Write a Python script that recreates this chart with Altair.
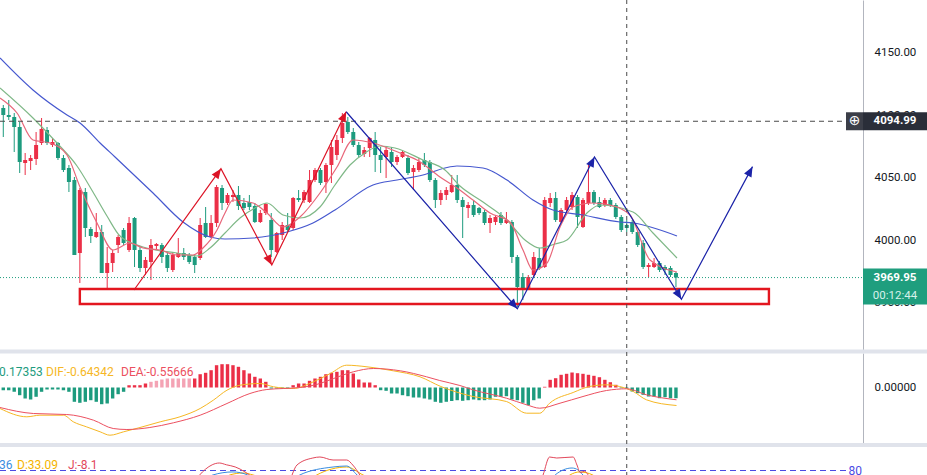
import math
import altair as alt
import pandas as pd

# ---------------- data ----------------
opens = [4105.6, 4100.0, 4098.4, 4090.4, 4061.6, 4063.2, 4064.8, 4077.6, 4088.0, 4076.0,
         4077.6, 4065.6, 4057.6, 4048.0, 3989.6, 4038.4, 4008.8, 4002.4, 4006.4, 3973.6,
         3981.6, 3996.0, 4008.0, 3992.0, 4017.6, 3992.0, 3977.6, 3982.4, 3995.2, 3996.0,
         3988.0, 3976.0, 3986.4, 3989.6, 3988.0, 3986.4, 3985.6, 4013.6, 4002.4, 4013.6,
         4041.6, 4029.6, 4034.4, 4036.0, 4029.6, 4030.4, 4027.2, 4014.4, 4021.6, 4016.0,
         3990.4, 4004.0, 4012.0, 4009.6, 4033.6, 4032.0, 4030.4, 4048.0, 4056.0, 4046.4,
         4060.0, 4068.0, 4081.6, 4094.4, 4086.4, 4076.0, 4068.8, 4073.6, 4080.0, 4068.0,
         4066.4, 4070.4, 4062.4, 4066.4, 4065.6, 4054.4, 4056.0, 4064.0, 4062.4, 4048.0,
         4032.0, 4036.0, 4038.4, 4044.0, 4032.0, 4025.6, 4028.0, 4025.6, 4022.4, 4013.6,
         4014.4, 4020.0, 4013.6, 4014.4, 3986.4, 3970.4, 3961.6, 3972.0, 3985.6, 3978.4,
         4029.6, 4033.6, 4014.4, 4024.0, 4026.4, 4034.4, 4010.4, 4029.6, 4038.4, 4030.4,
         4028.0, 4032.0, 4028.0, 4018.4, 4012.0, 4014.4, 4006.4, 3997.6, 3978.4, 3978.4,
         3981.6, 3978.4, 3977.6, 3973.6]
highs = [4108.0, 4112.0, 4101.6, 4094.4, 4069.6, 4068.0, 4086.4, 4097.6, 4090.4, 4081.6,
         4078.4, 4068.0, 4060.0, 4050.4, 4041.6, 4041.6, 4010.4, 4021.6, 4012.0, 3994.4,
         3992.0, 4004.0, 4009.6, 4018.4, 4018.4, 3994.4, 3986.4, 4000.8, 3997.6, 3997.6,
         3989.6, 3989.6, 4001.6, 3993.6, 3989.6, 3988.0, 4017.6, 4026.4, 4020.0, 4044.0,
         4044.0, 4037.6, 4040.0, 4043.2, 4033.6, 4036.0, 4029.6, 4024.0, 4029.6, 4021.6,
         4006.4, 4014.4, 4021.6, 4034.4, 4040.0, 4040.0, 4056.0, 4057.6, 4057.6, 4061.6,
         4080.0, 4084.0, 4101.6, 4098.4, 4089.6, 4078.4, 4074.4, 4082.4, 4086.4, 4074.4,
         4074.4, 4074.4, 4068.0, 4072.0, 4068.0, 4060.0, 4065.6, 4069.6, 4064.0, 4049.6,
         4040.0, 4042.4, 4052.0, 4052.0, 4034.4, 4030.4, 4032.0, 4026.4, 4024.0, 4020.0,
         4020.0, 4022.4, 4022.4, 4016.0, 3988.0, 3973.6, 3972.0, 3990.4, 3993.6, 4034.4,
         4037.6, 4038.4, 4025.6, 4034.4, 4038.4, 4036.0, 4033.6, 4060.0, 4040.0, 4034.4,
         4033.6, 4033.6, 4029.6, 4020.0, 4016.0, 4016.0, 4008.0, 4000.0, 3981.6, 3985.6,
         3983.2, 3980.0, 3979.2, 3974.4]
lows = [4082.4, 4096.0, 4070.4, 4053.6, 4052.0, 4056.0, 4060.0, 4076.0, 4076.0, 4074.4,
        4064.0, 4054.4, 4038.4, 3988.0, 3965.6, 4002.4, 3997.6, 4001.6, 3973.6, 3960.0,
        3974.4, 3989.6, 3996.0, 3990.4, 3978.4, 3974.4, 3972.0, 3968.0, 3992.0, 3981.6,
        3974.4, 3974.4, 3985.6, 3984.0, 3980.8, 3973.6, 3984.0, 4001.6, 4001.6, 4010.4,
        4024.0, 4028.0, 4030.4, 4024.0, 4024.0, 4024.0, 4013.6, 4013.6, 4020.0, 3986.4,
        3989.6, 4000.0, 4006.4, 4008.0, 4030.4, 4029.6, 4029.6, 4046.4, 4044.0, 4037.6,
        4045.6, 4064.0, 4077.6, 4084.8, 4074.4, 4066.4, 4066.4, 4066.4, 4054.4, 4053.6,
        4049.6, 4058.4, 4060.0, 4065.6, 4052.0, 4040.0, 4054.4, 4058.4, 4046.4, 4025.6,
        4028.0, 4032.0, 4037.6, 4029.6, 4001.6, 4017.6, 4018.4, 4020.0, 4012.0, 4005.6,
        4012.0, 4012.0, 4012.8, 3981.6, 3946.4, 3952.0, 3960.0, 3970.4, 3976.0, 3977.6,
        4026.4, 4014.4, 4013.6, 4022.4, 4024.0, 4009.6, 4009.6, 4028.0, 4028.0, 4025.6,
        4026.4, 4026.4, 4016.8, 4006.4, 4006.4, 4004.8, 3994.4, 3976.8, 3970.4, 3977.6,
        3974.4, 3972.0, 3970.4, 3962.4]
closes = [4100.0, 4098.4, 4090.4, 4062.4, 4064.0, 4065.6, 4076.0, 4088.8, 4077.6, 4078.4,
          4065.6, 4056.0, 4046.4, 3988.0, 4040.0, 4009.6, 4003.2, 4006.4, 3973.6, 3981.6,
          3989.6, 4002.4, 3997.6, 4013.6, 3992.0, 3977.6, 3984.0, 3996.0, 3996.8, 3986.4,
          3977.6, 3988.0, 3989.6, 3986.4, 3982.4, 3980.0, 4012.0, 4002.4, 4013.6, 4042.4,
          4029.6, 4036.0, 4036.0, 4027.2, 4025.6, 4026.4, 4014.4, 4021.6, 4028.8, 3992.0,
          4005.6, 4012.0, 4008.0, 4033.6, 4032.0, 4038.4, 4048.0, 4056.0, 4045.6, 4060.0,
          4074.4, 4080.0, 4093.6, 4086.4, 4076.0, 4068.0, 4072.0, 4081.6, 4068.0, 4064.0,
          4072.0, 4062.4, 4066.4, 4070.4, 4053.6, 4057.6, 4062.4, 4060.0, 4048.0, 4032.0,
          4037.6, 4040.0, 4044.0, 4032.0, 4026.4, 4028.0, 4020.0, 4021.6, 4013.6, 4017.6,
          4018.4, 4013.6, 4016.0, 3986.4, 3962.4, 3961.6, 3970.4, 3986.4, 3977.6, 4032.0,
          4033.6, 4016.0, 4024.0, 4032.0, 4036.0, 4018.4, 4032.0, 4038.4, 4029.6, 4026.4,
          4032.0, 4028.0, 4018.4, 4008.0, 4009.6, 4006.4, 3996.0, 3978.4, 3980.0, 3981.6,
          3976.0, 3976.0, 3972.0, 3969.95]

ma_fast_idx = [-0.6, 2.51, 5.43, 8.54, 11.65, 14.03, 17.14, 20.06, 23.17, 25.55, 28.66, 31.76,
               34.69, 36.52, 39.08, 40.54, 42.0, 45.66, 48.22, 51.15, 54.25, 57.91, 61.02, 63.95,
               67.6, 72.54, 75.65, 79.85, 82.96, 85.89, 89.0, 92.65, 95.03, 96.86, 99.42, 101.8,
               104.17, 107.83, 110.94, 114.6, 118.25, 123.19]
ma_fast_val = [4113.6, 4101.6, 4080.0, 4077.6, 4068.0, 4042.4, 4013.6, 3992.0, 3997.6, 3993.6,
               3992.0, 3988.0, 3988.0, 3993.6, 4008.0, 4021.6, 4032.0, 4029.6, 4021.6, 4010.4,
               4018.4, 4037.6, 4058.4, 4080.0, 4077.6, 4069.6, 4064.0, 4050.4, 4041.6, 4032.0,
               4021.6, 4014.4, 3992.0, 3976.0, 3981.6, 4010.4, 4026.4, 4029.6, 4028.0, 4020.0,
               3984.0, 3974.4]
ma_mid_idx = [-0.6, 5.43, 9.82, 13.48, 16.4, 18.96, 21.34, 25.55, 31.76, 35.42, 37.8, 40.54,
              43.28, 46.03, 48.22, 51.15, 54.25, 57.91, 60.65, 63.4, 66.14, 68.88, 71.62, 76.74,
              80.77, 83.51, 87.72, 92.1, 95.4, 98.14, 100.88, 103.07, 106.73, 109.11, 115.14,
              118.8, 123.19]
ma_mid_val = [4121.6, 4097.6, 4077.6, 4059.2, 4038.4, 4019.2, 4003.2, 3994.4, 3989.6, 3987.2,
              3993.6, 4005.6, 4017.6, 4025.6, 4029.6, 4020.0, 4017.6, 4026.4, 4044.0, 4060.0,
              4069.6, 4075.2, 4073.6, 4064.0, 4056.0, 4043.2, 4030.4, 4016.0, 4000.0, 3993.6,
              3996.8, 4000.0, 4021.6, 4028.0, 4022.4, 4005.6, 3985.6]
ma_slow_idx = [-0.6, 5.43, 11.65, 14.03, 17.7, 20.43, 27.38, 32.86, 37.8, 40.54, 45.66, 51.88,
               56.63, 60.65, 67.6, 71.99, 76.74, 80.77, 82.96, 87.71, 92.1, 96.86, 100.5, 106.0,
               112.77, 115.14, 123.19]
ma_slow_val = [4145.6, 4120.0, 4100.0, 4093.6, 4077.6, 4066.4, 4037.6, 4014.4, 4002.4, 4000.8,
               4001.6, 4006.4, 4013.6, 4024.0, 4044.0, 4048.0, 4052.0, 4057.6, 4059.2, 4057.6,
               4048.0, 4032.0, 4024.0, 4020.0, 4014.4, 4013.6, 4003.2]

macd_hist = [-0.27, -0.27, -0.43, -0.77, -1.1, -1.2, -0.93, -0.43, -0.2, -0.2, -0.2, -0.27,
             -0.43, -1.43, -1.53, -1.43, -1.27, -1.43, -1.67, -1.6, -1.1, -0.67, -0.43,
             0.23, 0.23, 0.23, 0.4, 0.57, 0.67, 0.8, 0.9, 0.9, 0.9, 0.9, 0.9, 0.9, 1.33, 1.47,
             1.73, 2.23, 2.33, 2.33, 2.23, 2.07, 1.73, 1.4, 1.07, 0.9, 0.57,
             -0.1, -0.1, -0.1, -0.1,
             0.23, 0.4, 0.4, 0.67, 0.9, 1.07, 1.33, 1.47, 1.57, 1.73, 1.73, 1.4, 0.8, 0.5, 0.5, 0.23,
             -0.27, -0.33, -0.6, -0.6, -0.77, -0.87, -1.0, -1.0, -1.1, -1.2, -1.43, -1.53, -1.43,
             -1.35, -1.27, -1.33, -1.27, -1.2, -1.27, -1.27, -1.2, -0.93, -0.93, -0.87, -1.2,
             -1.27, -1.53, -1.77, -1.27, -1.1,
             0.07, 0.77, 0.93, 1.27, 1.37, 1.5, 1.43, 1.37, 1.27, 1.17, 1.03, 0.77, 0.53, 0.27,
             -0.07, -0.1, -0.4, -0.57, -0.73, -0.9, -0.9, -1.07, -0.97, -1.07, -1.07]
macd_weak = [27, 28, 29, 30, 31, 32, 33, 34]
dif_idx = [-0.6, 4.3, 6.7, 11, 12.8, 15.2, 17.7, 19.5, 22, 25, 28.7, 32.3, 36, 38.4, 40.9, 43.3,
           47, 49.4, 53, 56.7, 59.8, 62.8, 66.5, 71.3, 76.2, 80, 85.9, 92, 95.7, 98.1, 99.9,
           104.2, 107.2, 110.3, 112.7, 115.2, 117.6, 123.1]
dif_val = [-2.1, -2.93, -2.77, -2.77, -3.43, -3.93, -4.43, -4.77, -4.43, -4.0, -3.43, -2.93,
           -2.1, -1.27, -0.27, 0.23, 0.4, 0.07, -0.1, 0.57, 1.4, 2.23, 2.07, 1.67, 1.07, 0.1,
           -0.9, -1.4, -2.57, -2.57, -1.57, -0.5, 0.1, 0.27, 0.1, -0.4, -1.23, -1.8]
dea_idx = [-0.6, 5.5, 11.6, 16.5, 20.1, 22.6, 26.8, 31.1, 36, 40.9, 45.1, 48.2, 51.2, 54.3,
           57.9, 60.4, 64, 67.7, 72.6, 77.4, 79.8, 83.5, 85.9, 92, 95.7, 98.1, 101.8, 106,
           110.3, 114, 117.6, 123.1]
dea_val = [-2.0, -2.6, -2.7, -3.27, -4.1, -4.2, -4.0, -3.53, -2.77, -1.6, -0.6, -0.2, -0.1, 0.0,
           0.4, 0.9, 1.57, 1.9, 1.67, 1.07, 0.7, 0.2, -0.23, -1.07, -1.73, -2.07, -1.57, -0.9,
           -0.3, -0.13, -0.73, -1.23]

k_idx = [-0.6, 30, 36, 38.3, 42, 44.7, 47, 52, 54.2, 60.3, 62.8, 64.7, 67, 90, 99, 100.9, 104,
         105.1, 106, 108, 114, 123.2]
k_val = [30, 45, 65, 73.7, 78, 73.7, 62, 55, 73.7, 84.9, 86.3, 73.7, 60, 20, 55, 73.7, 83.5,
         80.7, 73.7, 60, 19.36, 15]
d_idx = [-0.6, 30, 40, 41.4, 43.8, 45.7, 50, 55, 57.3, 62.8, 65.8, 70, 95, 101, 103.6, 105.4,
         107.8, 110, 114, 123.2]
d_val = [35, 45, 65, 73.7, 76.5, 73.7, 62, 62, 73.7, 84.9, 73.7, 60, 30, 55, 73.7, 78, 73.7,
         55, 33.09, 25]
j_idx = [-0.6, 20, 30, 34.6, 35.9, 37.0, 38.2, 39.5, 40.8, 42.4, 44.2, 45.1, 46.5, 50, 52.0,
         52.8, 53.7, 56.6, 57.9, 60.3, 62.8, 63.9, 65.2, 66.5, 80, 95, 97.8, 98.7, 99.9, 101.2,
         104.2, 104.9, 105.5, 106.3, 107.2, 108.5, 114, 123.2]
j_val = [30, 10, 40, 60, 73.7, 82, 88, 90.5, 88, 85, 78, 73, 55, 30, 55, 73.7, 87.7, 97.5,
         98.9, 94.7, 94.7, 87.7, 73.7, 55, 10, 20, 55, 73.7, 98.9, 97.5, 98.9, 87.7, 77, 79, 70,
         45, -8.1, 0]

price_ticks = [3950, 4000, 4050, 4100, 4150]
macd_ticks = [0]
last_price = 3969.95
cross_price = 4094.99
cross_index = 114
countdown = "00:12:44"
zone_idx = [14.0, 140.0]
zone_val = [3960.8, 3948.8]
red_path_idx = [23.9, 39.8, 49.1, 62.7]
red_path_val = [3960.0, 4057.0, 3980.0, 4102.6]
blue_path_idx = [62.7, 94.0, 108.1, 124.0, 137.0]
blue_path_val = [4102.6, 3945.0, 4066.4, 3952.6, 4058.7]
kdj_level = 80
macd_legend_text = ["0.17353", "DIF:-0.64342", "DEA:-0.55666"]
kdj_legend_text = ["36", "D:33.09", "J:-8.1"]

# ---------------- layout & style ----------------
W, AXW, H = 863, 64, 475
XDOM = [-0.6, 157.2]
LINE_END = 154.1
MAIN_DOM, MAIN_RNG = [3912, 4192], [350, 0]
MACD_DOM, MACD_RNG = [-5.55, 3.45], [443, 353]
KDJ_DOM, KDJ_RNG = [73.7, 112.9], [475, 447]

RED = "#eb2f47"
GREEN = "#1d9b7e"
PINK = "#f4a3b4"
MA_FAST = "#e8677a"
MA_MID = "#7fb887"
MA_SLOW = "#4658cf"
ARROW_RED = "#dc1426"
ARROW_BLUE = "#1b23a8"
ZONE = "#e3161f"
TAG_TEAL = "#1f9e7e"
TAG_DARK = "#2a2e39"
DIF_C = "#f6b724"
DEA_C = "#ec5060"
K_C = "#3a8ee0"
D_C = "#f4b400"
J_C = "#e2475a"
LEVEL_C = "#4b4be3"
SEP = "#e0e3eb"
FONT = "Roboto"

xs = alt.Scale(domain=XDOM, nice=False, zero=False, padding=0)
ms = alt.Scale(domain=MAIN_DOM, range=MAIN_RNG, nice=False, zero=False, padding=0)
mds = alt.Scale(domain=MACD_DOM, range=MACD_RNG, nice=False, zero=False, padding=0)
ks = alt.Scale(domain=KDJ_DOM, range=KDJ_RNG, nice=False, zero=False, padding=0)

main_axis = alt.Axis(orient="right", values=price_ticks, format=".2f", title=None,
                     labelFont=FONT, labelFontSize=11.5, labelColor="#131722",
                     ticks=False, grid=False, domainColor="#b2b5be", labelPadding=11)
macd_axis = alt.Axis(orient="right", values=macd_ticks, format=".5f", title=None,
                     labelFont=FONT, labelFontSize=11.5, labelColor="#131722",
                     ticks=False, grid=False, domainColor="#b2b5be", labelPadding=11)


def X(f):
    return alt.X(f, type="quantitative", scale=xs, axis=None)


def YM(f):
    return alt.Y(f, type="quantitative", scale=ms, axis=main_axis)


def YD(f):
    return alt.Y(f, type="quantitative", scale=mds, axis=macd_axis)


def YK(f):
    return alt.Y(f, type="quantitative", scale=ks, axis=None)


px_i = W / (XDOM[1] - XDOM[0])
px_p = (MAIN_RNG[0] - MAIN_RNG[1]) / (MAIN_DOM[1] - MAIN_DOM[0])

# ---------------- main price panel ----------------
n = len(closes)
cdf = pd.DataFrame({"i": list(range(n)), "o": opens, "h": highs, "l": lows, "c": closes})
cdf["col"] = [RED if c >= o else GREEN for o, c in zip(opens, closes)]

wicks = alt.Chart(cdf).mark_rule(strokeWidth=1).encode(
    x=X("i"), y=YM("l"), y2=alt.Y2("h"), color=alt.Color("col:N", scale=None))
bodies = alt.Chart(cdf).mark_bar(size=4).encode(
    x=X("i"), y=YM("o"), y2=alt.Y2("c"), color=alt.Color("col:N", scale=None))


def ma_layer(idx, val, color):
    d = pd.DataFrame({"i": idx, "v": val})
    return alt.Chart(d).mark_line(color=color, strokeWidth=1.2, interpolate="monotone").encode(
        x=X("i"), y=YM("v"))


ma_slow = ma_layer(ma_slow_idx, ma_slow_val, MA_SLOW)
ma_mid = ma_layer(ma_mid_idx, ma_mid_val, MA_MID)
ma_fast = ma_layer(ma_fast_idx, ma_fast_val, MA_FAST)

last_line = alt.Chart(pd.DataFrame({"a": [XDOM[0]], "b": [XDOM[1]], "p": [last_price]})).mark_rule(
    color=TAG_TEAL, strokeDash=[1, 2], strokeWidth=1).encode(
    x=X("a"), x2=alt.X2("b"), y=YM("p"))
cross_line = alt.Chart(pd.DataFrame({"a": [XDOM[0]], "b": [LINE_END], "p": [cross_price]})).mark_rule(
    color="#4a4a4a", strokeDash=[5, 4], strokeWidth=1).encode(
    x=X("a"), x2=alt.X2("b"), y=YM("p"))

zone = alt.Chart(pd.DataFrame({"a": [zone_idx[0]], "b": [zone_idx[1]],
                               "p": [zone_val[0]], "q": [zone_val[1]]})).mark_rect(
    fillOpacity=0, stroke=ZONE, strokeWidth=2.4).encode(
    x=X("a"), x2=alt.X2("b"), y=YM("p"), y2=alt.Y2("q"))


def path_layer(idx, val, color):
    d = pd.DataFrame({"i": idx, "v": val, "k": list(range(len(idx)))})
    return alt.Chart(d).mark_line(color=color, strokeWidth=1.2).encode(
        x=X("i"), y=YM("v"), order="k:Q")


heads = []
for idx, val, color in [(red_path_idx, red_path_val, ARROW_RED),
                        (blue_path_idx, blue_path_val, ARROW_BLUE)]:
    for k in range(1, len(idx)):
        di = (idx[k] - idx[k - 1]) * px_i
        dv = (val[k] - val[k - 1]) * px_p
        ang = math.degrees(math.atan2(di, dv)) % 360
        heads.append({"i": idx[k], "v": val[k], "ang": ang, "col": color})
head_df = pd.DataFrame(heads)
ARROW = "M0,0L-0.42,1L0.42,1Z"
head_layer = alt.Chart(head_df).mark_point(shape=ARROW, filled=True, size=400, opacity=1,
                                            strokeWidth=0).encode(
    x=X("i"), y=YM("v"), angle=alt.Angle("ang:Q", scale=None),
    color=alt.Color("col:N", scale=None))

tag_df = pd.DataFrame({"p": [last_price], "t": [f"{last_price:.2f}"], "cd": [countdown]})
cross_df = pd.DataFrame({"p": [cross_price], "t": [f"{cross_price:.2f}"], "ic": ["\u2295"]})
last_tag = alt.Chart(tag_df).mark_rect(color=TAG_TEAL, yOffset=-9, y2Offset=27).encode(
    x=alt.value(W), x2=alt.value(W + AXW), y=YM("p"), y2=alt.Y2("p"))
last_tag_t = alt.Chart(tag_df).mark_text(color="white", font=FONT, fontSize=11.5,
                                          fontWeight="bold", baseline="middle").encode(
    x=alt.value(W + AXW / 2), y=YM("p"), text="t:N")
last_tag_cd = alt.Chart(tag_df).mark_text(color="#d6f1ea", font=FONT, fontSize=11.5,
                                           baseline="middle", dy=18).encode(
    x=alt.value(W + AXW / 2), y=YM("p"), text="cd:N")
cross_tag = alt.Chart(cross_df).mark_rect(color=TAG_DARK, yOffset=-9, y2Offset=9).encode(
    x=alt.value(W), x2=alt.value(W + AXW), y=YM("p"), y2=alt.Y2("p"))
cross_icon_box = alt.Chart(cross_df).mark_rect(color="#3b3e48", yOffset=-9, y2Offset=9).encode(
    x=alt.value(W - 17), x2=alt.value(W), y=YM("p"), y2=alt.Y2("p"))
cross_icon = alt.Chart(cross_df).mark_text(color="white", font="DejaVu Sans", fontSize=14,
                                           baseline="middle").encode(
    x=alt.value(W - 8.5), y=YM("p"), text="ic:N")
cross_tag_t = alt.Chart(cross_df).mark_text(color="white", font=FONT, fontSize=11.5,
                                            fontWeight="bold", baseline="middle").encode(
    x=alt.value(W + AXW / 2), y=YM("p"), text="t:N")

main = alt.layer(wicks, bodies, ma_slow, ma_mid, ma_fast, last_line, cross_line, zone,
                 path_layer(red_path_idx, red_path_val, ARROW_RED),
                 path_layer(blue_path_idx, blue_path_val, ARROW_BLUE),
                 head_layer, last_tag, last_tag_t, last_tag_cd, cross_tag, cross_icon_box,
                 cross_icon, cross_tag_t)

# ---------------- MACD panel ----------------
hdf = pd.DataFrame({"i": list(range(len(macd_hist))), "h": macd_hist, "z": 0.0})
hdf["col"] = [PINK if i in macd_weak else (RED if h >= 0 else GREEN)
              for i, h in zip(hdf["i"], hdf["h"])]
hist = alt.Chart(hdf).mark_bar(size=3.4).encode(
    x=X("i"), y=YD("h"), y2=alt.Y2("z"), color=alt.Color("col:N", scale=None))


def macd_line(idx, val, color):
    d = pd.DataFrame({"i": idx, "v": val})
    return alt.Chart(d).mark_line(color=color, strokeWidth=1, interpolate="monotone").encode(
        x=X("i"), y=YD("v"))


macd = alt.layer(hist, macd_line(dif_idx, dif_val, DIF_C), macd_line(dea_idx, dea_val, DEA_C))

# ---------------- KDJ panel ----------------
def kdj_line(idx, val, color):
    d = pd.DataFrame({"i": idx, "v": val})
    return alt.Chart(d).mark_line(color=color, strokeWidth=1, interpolate="monotone",
                                  clip=True).encode(x=X("i"), y=YK("v"))


lvl_df = pd.DataFrame({"a": [XDOM[0]], "b": [LINE_END], "v": [kdj_level], "t": [str(kdj_level)]})
lvl = alt.Chart(lvl_df).mark_rule(color=LEVEL_C, strokeDash=[6, 4], strokeWidth=1.2).encode(
    x=X("a"), x2=alt.X2("b"), y=YK("v"))
lvl_t = alt.Chart(lvl_df).mark_text(color=LEVEL_C, font=FONT, fontSize=12, align="right",
                                    baseline="middle").encode(
    x=alt.value(W - 1), y=YK("v"), text="t:N")
kdj = alt.layer(lvl, kdj_line(d_idx, d_val, D_C), kdj_line(k_idx, k_val, K_C),
                kdj_line(j_idx, j_val, J_C), lvl_t)

# ---------------- overlay (separators, crosshair, legends) ----------------
sep_df = pd.DataFrame({"s": ["a"]})
sep1 = alt.Chart(sep_df).mark_rect(color=SEP).encode(
    x=alt.value(0), x2=alt.value(W + AXW), y=alt.value(349.5), y2=alt.value(353.5))
sep2 = alt.Chart(sep_df).mark_rect(color=SEP).encode(
    x=alt.value(0), x2=alt.value(W + AXW), y=alt.value(443), y2=alt.value(447))
vcross = alt.Chart(pd.DataFrame({"i": [cross_index]})).mark_rule(
    color="#4a4a4a", strokeDash=[4, 4], strokeWidth=1).encode(
    x=X("i"), y=alt.value(0), y2=alt.value(H))

legend_layers = []
for txt, col, px in zip(macd_legend_text, [GREEN, DIF_C, DEA_C], [-1, 46, 121]):
    legend_layers.append(alt.Chart(pd.DataFrame({"t": [txt]})).mark_text(
        color=col, font=FONT, fontSize=12, align="left", baseline="middle").encode(
        x=alt.value(px), y=alt.value(372), text="t:N"))
for txt, col, px in zip(kdj_legend_text, [K_C, D_C, J_C], [-1, 17, 68]):
    legend_layers.append(alt.Chart(pd.DataFrame({"t": [txt]})).mark_text(
        color=col, font=FONT, fontSize=12, align="left", baseline="middle").encode(
        x=alt.value(px), y=alt.value(465), text="t:N"))

overlay = alt.layer(sep1, sep2, vcross, *legend_layers)

chart = alt.layer(main, macd, kdj, overlay).resolve_scale(y="independent").properties(
    width=W, height=H,
    autosize=alt.AutoSizeParams(type="none"),
    padding={"left": 0, "top": 0, "right": AXW, "bottom": 0},
    background="white",
).configure_view(strokeWidth=0)

chart.save("out.html", embed_options={"renderer": "svg", "actions": False})
